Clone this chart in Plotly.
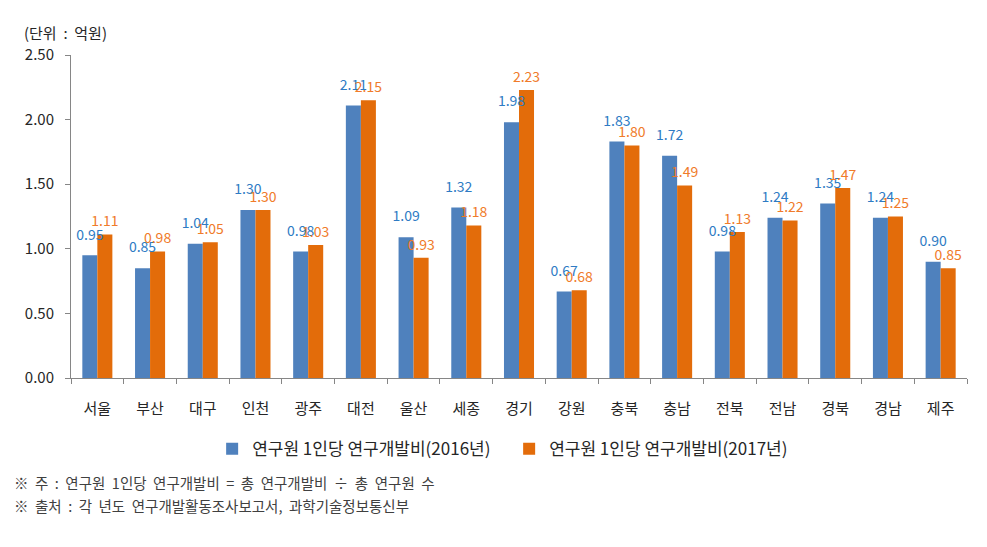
import plotly.graph_objects as go

regions = ["서울", "부산", "대구", "인천", "광주", "대전", "울산", "세종", "경기",
           "강원", "충북", "충남", "전북", "전남", "경북", "경남", "제주"]
values_2016 = [0.95, 0.85, 1.04, 1.30, 0.98, 2.11, 1.09, 1.32, 1.98,
               0.67, 1.83, 1.72, 0.98, 1.24, 1.35, 1.24, 0.90]
values_2017 = [1.11, 0.98, 1.05, 1.30, 1.03, 2.15, 0.93, 1.18, 2.23,
               0.68, 1.80, 1.49, 1.13, 1.22, 1.47, 1.25, 0.85]
y_ticks = [0.0, 0.5, 1.0, 1.5, 2.0, 2.5]
name_2016 = "연구원 1인당 연구개발비(2016년)"
name_2017 = "연구원 1인당 연구개발비(2017년)"

FONT = "Noto Sans CJK KR, Malgun Gothic, sans-serif"
BARGAP = 0.43
half = (1 - BARGAP) / 4  # centre offset of each bar inside its group
n = len(regions)

fig = go.Figure()
fig.add_trace(go.Bar(
    x=regions, y=values_2016, name=name_2016,
    marker=dict(color="#4F81BD", line=dict(width=0)),
))
fig.add_trace(go.Bar(
    x=regions, y=values_2017, name=name_2017,
    marker=dict(color="#E36C0A", line=dict(width=0)),
))
# data labels on a top layer so they are drawn above all bars (as in the reference)
fig.add_trace(go.Scatter(
    x=[i - half for i in range(n)], y=values_2016, xaxis="x2",
    mode="markers+text", text=[f"{v:.2f}" for v in values_2016],
    textposition="top center", marker=dict(size=18, opacity=0),
    textfont=dict(color="#2E7BC4", size=14, family=FONT),
    showlegend=False, hoverinfo="skip", cliponaxis=False,
))
fig.add_trace(go.Scatter(
    x=[i + half for i in range(n)], y=values_2017, xaxis="x2",
    mode="markers+text", text=[f"{v:.2f}" for v in values_2017],
    textposition="top center", marker=dict(size=6, opacity=0),
    textfont=dict(color="#F07B2A", size=14, family=FONT),
    showlegend=False, hoverinfo="skip", cliponaxis=False,
))

# page body has an 8px margin, so the figure is drawn 8px smaller
fig.update_layout(
    width=979, height=539,
    margin=dict(l=63, r=20, t=47, b=169),
    paper_bgcolor="white", plot_bgcolor="white",
    font=dict(family=FONT, color="#262626", size=14),
    barmode="group", bargap=BARGAP, bargroupgap=0.0,
    showlegend=True,
    legend=dict(orientation="h", x=0.489, xanchor="center", y=-0.165, yanchor="top",
                font=dict(size=17, color="#262626"), entrywidth=252,
                itemwidth=30, traceorder="normal"),
    xaxis2=dict(overlaying="x", anchor="y", range=[-0.5, n - 0.5], visible=False),
    xaxis=dict(
        range=[-0.5, n - 0.5],
        showline=True, linecolor="#868686", linewidth=1,
        ticks="outside", ticklen=5, tickcolor="#868686",
        tickson="boundaries", showgrid=False, ticklabelstandoff=17,
        tickfont=dict(size=15, color="#262626"),
    ),
)
fig.update_yaxes(
    range=[0, 2.5], tickvals=y_ticks, tickformat=".2f",
    showline=True, linecolor="#868686", linewidth=1,
    ticks="outside", ticklen=5, tickcolor="#868686",
    showgrid=False, zeroline=False, ticklabelstandoff=8,
    tickfont=dict(size=15, color="#262626"),
)

fig.add_annotation(text="(단위  :  억원)", xref="paper", yref="paper",
                   x=-0.0547, y=1.071, xanchor="left", yanchor="middle",
                   showarrow=False, font=dict(size=15, color="#262626"))
fig.add_annotation(text="※  주  :  연구원  1인당  연구개발비  =  총  연구개발비  ÷  총  연구원  수",
                   xref="paper", yref="paper", x=-0.0658, y=-0.325,
                   xanchor="left", yanchor="middle", showarrow=False,
                   font=dict(size=14.5, color="#404040"))
fig.add_annotation(text="※  출처  :  각  년도  연구개발활동조사보고서,  과학기술정보통신부",
                   xref="paper", yref="paper", x=-0.0658, y=-0.396,
                   xanchor="left", yanchor="middle", showarrow=False,
                   font=dict(size=14.5, color="#404040"))

fig.write_html("out.html")
